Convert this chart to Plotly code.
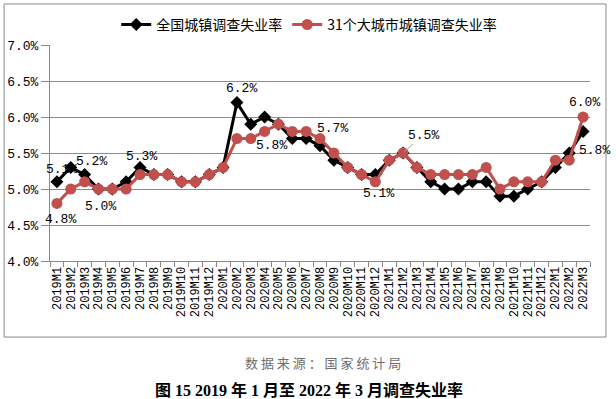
import plotly.graph_objects as go

months = ["2019M1","2019M2","2019M3","2019M4","2019M5","2019M6","2019M7","2019M8","2019M9","2019M10","2019M11","2019M12",
          "2020M1","2020M2","2020M3","2020M4","2020M5","2020M6","2020M7","2020M8","2020M9","2020M10","2020M11","2020M12",
          "2021M1","2021M2","2021M3","2021M4","2021M5","2021M6","2021M7","2021M8","2021M9","2021M10","2021M11","2021M12",
          "2022M1","2022M2","2022M3"]

national = [5.1,5.3,5.2,5.0,5.0,5.1,5.3,5.2,5.2,5.1,5.1,5.2,
            5.3,6.2,5.9,6.0,5.9,5.7,5.7,5.6,5.4,5.3,5.2,5.2,
            5.4,5.5,5.3,5.1,5.0,5.0,5.1,5.1,4.9,4.9,5.0,5.1,
            5.3,5.5,5.8]

cities31 = [4.8,5.0,5.1,5.0,5.0,5.0,5.2,5.2,5.2,5.1,5.1,5.2,
            5.3,5.7,5.7,5.8,5.9,5.8,5.8,5.7,5.5,5.3,5.2,5.1,
            5.4,5.5,5.3,5.2,5.2,5.2,5.2,5.3,5.0,5.1,5.1,5.1,
            5.4,5.4,6.0]

y_ticks = [4.0, 4.5, 5.0, 5.5, 6.0, 6.5, 7.0]

name_national = "全国城镇调查失业率"
name_cities = "31个大城市城镇调查失业率"
source_text = "数 据 来 源 ： 国 家 统 计 局"
title_text = "图 15 2019 年 1 月至 2022 年 3 月调查失业率"

RED = "#C0504D"
MONO = "Liberation Mono, DejaVu Sans Mono, monospace"
CJK = "Noto Sans CJK SC, sans-serif"

fig = go.Figure()
fig.add_trace(go.Scatter(x=months, y=national, name=name_national, mode="lines+markers",
                         line=dict(color="black", width=3),
                         marker=dict(symbol="diamond", size=10, color="black")))
fig.add_trace(go.Scatter(x=months, y=cities31, name=name_cities, mode="lines+markers",
                         line=dict(color=RED, width=3),
                         marker=dict(symbol="circle", size=11, color=RED)))

# data labels: (series, month index, xshift, yshift, leader-line)
labels = [
    (national, 0, 5, 12, False),
    (national, 2, 7, 13, False),
    (cities31, 3, 2, -17, False),
    (cities31, 0, 4, -16, False),
    (national, 6, 1, 11, False),
    (national, 13, 5, 14, False),
    (cities31, 15, 7, -14, False),
    (cities31, 19, 12, 10, False),
    (cities31, 23, 3, -12, False),
    (cities31, 25, 20, 18, True),
    (cities31, 38, 1, 15, False),
    (national, 38, 11, -19, True),
]
for series, i, dx, dy, leader in labels:
    txt = f"{series[i]:.1f}%"
    if leader:
        fig.add_annotation(x=months[i], y=series[i], text=txt, showarrow=True,
                           ax=dx, ay=-dy, arrowhead=0, arrowwidth=1, arrowcolor="#A6A6A6",
                           standoff=2, font=dict(family=MONO, size=13, color="black"))
    else:
        fig.add_annotation(x=months[i], y=series[i], text=txt, showarrow=False,
                           xshift=dx, yshift=dy, font=dict(family=MONO, size=13, color="black"))

# outer chart border
fig.add_shape(type="rect", xref="paper", yref="paper", x0=-0.085, x1=1.0296, y0=-0.352, y1=1.19,
              line=dict(color="#888888", width=1), fillcolor="rgba(0,0,0,0)", layer="below")

fig.add_annotation(xref="paper", yref="paper", x=0.505, y=-0.469, yanchor="middle", text=source_text,
                   showarrow=False, font=dict(family=CJK, size=13, color="#6e6e6e"))
fig.add_annotation(xref="paper", yref="paper", x=0.48, y=-0.597, yanchor="middle",
                   text="<b>" + title_text + "</b>", showarrow=False,
                   font=dict(family="Liberation Serif, Noto Sans CJK SC, serif", size=16, color="black"))

fig.update_layout(
    width=616, height=399,
    margin=dict(l=50, r=26, t=45, b=138, autoexpand=False),
    paper_bgcolor="white", plot_bgcolor="white",
    showlegend=True,
    legend=dict(orientation="h", x=0.48, xanchor="center", y=1.093, yanchor="middle",
                font=dict(family=CJK, size=14, color="black"), itemwidth=30, traceorder="normal"),
    font=dict(family=MONO, color="black"),
)
fig.update_xaxes(type="category", range=[-0.5, len(months) - 0.5], autorange=False,
                 tickmode="linear", tick0=0, dtick=1, tickangle=-90,
                 tickson="boundaries", ticks="outside", ticklen=5, automargin=False,
                 tickcolor="#888888", showline=True, linecolor="#888888", linewidth=1,
                 showgrid=False, tickfont=dict(family=MONO, size=12, color="black"))
fig.update_yaxes(range=[4.0, 7.0], tickvals=y_ticks, ticktext=[f"{v:.1f}%" for v in y_ticks],
                 ticks="outside", ticklen=8, tickcolor="#888888", showline=True, linecolor="#888888",
                 linewidth=1, showgrid=True, gridcolor="#8c8c8c", gridwidth=1, zeroline=False,
                 automargin=False, tickfont=dict(family=MONO, size=13, color="black"))

fig.write_html("out.html", config={"displayModeBar": False},
               post_script="document.body.style.margin='0';")
